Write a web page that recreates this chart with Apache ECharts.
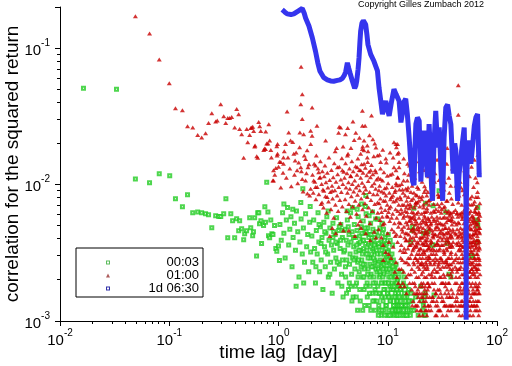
<!DOCTYPE html>
<html><head><meta charset="utf-8">
<script src="https://cdn.jsdelivr.net/npm/echarts@6/dist/echarts.min.js"></script>
<style>html,body{margin:0;padding:0;background:#fff}#c{width:512px;height:366px}</style>
</head><body><div id="c"></div>
<script>
// axis ticks
const xTicks = [0.01, 0.1, 1, 10, 100];
const yTicks = [0.001, 0.01, 0.1];
const yTop = 0.2;
const xMinor = [0.02,0.03,0.04,0.05,0.06,0.07,0.08,0.09,0.2,0.3,0.4,0.5,0.6,0.7,0.8,0.9,2,3,4,5,6,7,8,9,20,30,40,50,60,70,80,90];
const yMinor = [0.002,0.003,0.004,0.005,0.006,0.007,0.008,0.009,0.02,0.03,0.04,0.05,0.06,0.07,0.08,0.09];
const legendNames = ['00:03', '01:00', '1d 06:30'];
const xTitle = 'time lag  [day]';
const yTitle = 'correlation for the squared return';
const copyright = 'Copyright Gilles Zumbach 2012';

// series 00:03 (green squares)
const green0003 = [
[0.0164,.0508],[0.0329,.050],[0.049,.011],[0.066,.0103],[0.081,.012],[0.101,.0116],[0.114,.00787],[0.132,.00687],[0.147,.0084],[0.164,.0062],[0.182,.0063],[0.198,.0062],[0.215,.0061],[0.229,.006],[0.245,.00483],[0.266,.0059],[0.284,.00584],[0.296,.00584],[0.315,.0061],[0.33,.00787],[0.343,.00408],[0.366,.0061],[0.38,.00543],[0.397,.00408],[0.414,.00562],[0.432,.00459],[0.441,.00543],[0.46,.00475],[0.48,.00394],[0.49,.00436],[0.51,.00459],[0.545,.00572],[0.557,.00483],[0.58,.00422],[0.59,.0045],[0.605,.00572],[0.63,.003],[0.645,.0062],[0.66,.0062],[0.67,.00516],[0.69,.00543],[0.70,.00369],[0.73,.005],[0.75,.00687],[0.76,.0053],[0.78,.0104],[0.80,.0063],[0.81,.00422],[0.83,.00408],[0.85,.0055],[0.87,.00436],[0.89,.0043],[0.92,.005],[0.945,.0034],[0.965,.00325],[1.0,.00355],[1.02,.00277],
[1.03,.0051],[1.06,.0039],[1.09,.0062],[1.12,.0044],[1.15,.0029],[1.18,.0055],[1.21,.0068],[1.24,.0036],[1.27,.0047],[1.3,.0058],[1.33,.0025],[1.36,.0041],[1.4,.0052],[1.43,.0033],[1.46,.0064],[1.5,.0045],[1.54,.0021],[1.57,.0038],[1.61,.0056],[1.65,.0031],[1.69,.0048],[1.73,.0027],[1.77,.0061],[1.81,.0035],[1.85,.0043],[1.89,.0023],[1.93,.0053],[1.97,.0032],[1.12,.0072],[1.35,.0066],[1.6,.0074],[1.95,.0069],[1.45,.0018],[1.7,.0019],[1.67,.0093],
[2.02,.0042],[2.06,.0027],[2.1,.0055],[2.14,.0034],[2.18,.0019],[2.22,.0046],[2.26,.0031],[2.3,.0062],[2.34,.0038],[2.38,.0023],[2.42,.0049],[2.46,.0028],[2.5,.0041],[2.55,.0017],[2.6,.0053],[2.64,.0035],[2.68,.0025],[2.72,.0044],[2.77,.0058],[2.82,.0031],[2.86,.0021],[2.9,.0039],[2.95,.0048],[3.0,.0027],[3.05,.0036],[3.1,.0016],[3.15,.0052],[3.2,.0033],[3.25,.0024],[3.3,.0043],[3.35,.0029],[3.4,.0057],[3.45,.0037],[3.5,.0019],[3.55,.0046],[3.6,.0026],[3.66,.0034],[3.72,.0051],[3.78,.0022],[3.84,.0041],[3.9,.0015],[3.96,.0032],
[2.2,.0025],[2.45,.0037],[2.7,.0032],[2.95,.0022],[3.2,.0045],[3.45,.0027],[3.7,.0039],[2.35,.0051],[2.85,.0064],[3.35,.0038],[3.85,.0028],[2.65,.0045],[3.15,.0041],[3.6,.0049],[3.95,.0046],
[4.03,.0033],[4.08,.0047],[4.12,.0021],[4.17,.0039],[4.22,.0028],[4.27,.0055],[4.32,.0036],[4.37,.0017],[4.42,.0043],[4.47,.0026],[4.52,.0031],[4.57,.0062],[4.62,.0038],[4.67,.0022],[4.72,.0045],[4.77,.0029],[4.82,.0015],[4.88,.0035],[4.94,.0051],[5.0,.0024],[5.06,.0041],[5.12,.0032],[5.18,.0019],[5.24,.0046],[5.3,.0027],[5.36,.0058],[5.42,.0037],[5.48,.0023],[5.54,.0042],[5.6,.0014],[5.66,.0033],[5.72,.0049],[5.78,.0028],[5.84,.0039],[5.9,.0021],[5.96,.0054],[6.02,.0034],[6.08,.0017],[6.14,.0044],[6.2,.0026],[6.27,.0037],[6.34,.0061],[6.41,.0031],[6.48,.0019],[6.55,.0048],[6.62,.0024],[6.69,.0036],[6.76,.0013],[6.83,.0043],[6.9,.0029],[6.97,.0052],[7.04,.0022],[7.11,.0038],[7.18,.0016],[7.25,.0034],[7.32,.0047],[7.39,.0025],[7.46,.0032],[7.53,.0014],[7.6,.0041],[7.67,.0027],[7.74,.0019],[7.81,.0036],[7.88,.0045],[7.95,.0023],
[4.1,.0025],[4.35,.0049],[4.6,.0018],[4.85,.0041],[5.1,.0029],[5.35,.0021],[5.6,.0038],[5.85,.0031],[6.1,.0024],[6.35,.0045],[6.6,.0029],[6.85,.0021],[7.1,.0031],[7.35,.0019],[7.6,.0028],[7.85,.0016],[4.25,.0064],[4.75,.0068],[5.25,.0066],[5.75,.0072],[6.25,.0069],[6.75,.0059],[7.25,.0063],[7.75,.0056],[4.45,.0019],[5.15,.0015],[5.9,.0012],[6.5,.0015],[7.0,.0012],[7.7,.0012],[4.9,.0028],[5.45,.0033],[6.0,.0039],[6.95,.0035],[7.45,.0039],[6.3,.0083],
[5.05,.0018],[5.2,.0036],[5.4,.0028],[5.55,.0017],[5.7,.0025],[5.8,.0044],[5.95,.0026],[6.05,.0021],[6.2,.0048],[6.3,.0018],[6.45,.0033],[6.55,.0022],[6.7,.0041],[6.8,.0016],[6.9,.0026],[7.05,.0043],[7.15,.0025],[7.3,.0014],[7.4,.0029],[7.55,.0036],[7.65,.0017],[7.8,.0024],[7.9,.0033],[8.0,.0014],[6.15,.0013],[6.9,.0018],[7.5,.0021],[5.3,.0012],[4.7,.0014],[4.2,.0016],[3.8,.0018],
[8.04,.0031],[8.1,.0018],[8.16,.0042],[8.22,.0024],[8.28,.0013],[8.34,.0035],[8.4,.0021],[8.46,.0048],[8.52,.0028],[8.58,.0016],[8.64,.0038],[8.7,.0011],[8.76,.0025],[8.82,.0033],[8.88,.0019],[8.94,.0044],[9.0,.0027],[9.06,.0014],[9.13,.0036],[9.2,.0022],[9.27,.0012],[9.34,.0031],[9.41,.0017],[9.48,.0041],[9.55,.0024],[9.62,.0013],[9.69,.0029],[9.76,.0019],[9.83,.0037],[9.9,.0011],[9.97,.0023],[10.05,.0016],[10.13,.0033],[10.21,.0021],[10.29,.0012],[10.37,.0027],[10.45,.0018],[10.53,.0039],[10.61,.0014],[10.69,.0024],[10.77,.0011],[10.85,.0019],[10.93,.0031],[11.01,.0015],[11.09,.0022],[11.17,.0012],[11.25,.0028],[11.33,.0017],[11.41,.0013],[11.49,.0021],[11.57,.0011],[11.65,.0025],[11.73,.0016],[11.81,.0012],[11.89,.0019],[11.97,.0014],[12.05,.0011],[12.13,.0023],[12.21,.0015],[12.29,.0012],[12.37,.0018],[12.45,.0013],
[8.07,.0056],[8.31,.0027],[8.55,.0022],[8.79,.0015],[9.03,.0021],[9.27,.0026],[9.51,.0015],[9.75,.0027],[9.99,.0032],[10.23,.0015],[10.47,.0026],[10.71,.0017],[10.95,.0012],[11.19,.0017],[11.43,.0024],[11.67,.0013],[11.91,.0026],[12.15,.0017],[12.39,.0011],[8.43,.0012],[9.15,.0047],[9.63,.0034],[10.11,.0043],[10.59,.0029],[11.07,.0036],[8.85,.0052],[9.4,.0011],[10.4,.0011],[12.3,.002],
[8.13,.0026],[8.25,.0037],[8.37,.0016],[8.49,.0023],[8.61,.0031],[8.73,.0019],[8.85,.0012],[8.97,.0036],[9.09,.0024],[9.21,.0017],[9.33,.0039],[9.45,.0028],[9.57,.0019],[9.69,.0013],[9.81,.0024],[9.93,.0016],[10.02,.0028],[10.17,.0019],[10.33,.0024],[10.5,.0014],[10.65,.0021],[10.8,.0027],[10.98,.0018],[11.13,.0025],[11.3,.0013],[11.45,.0018],[11.6,.0015],[11.78,.0021],[11.95,.0012],[12.1,.0019],[12.25,.0014],[12.5,.0012],[8.2,.0011],
[12.55,.0016],[12.7,.0012],[12.85,.0018],[13.0,.0011],[13.15,.0014],[13.3,.0017],[13.45,.0012],[13.6,.0015],[13.75,.0011],[13.9,.0019],[14.05,.0013],[14.2,.0016],[14.35,.0011],[14.5,.0014],[14.65,.0018],[14.8,.0012],[14.95,.0015],[15.1,.0011],[15.3,.0013],[15.5,.0017],[15.7,.0012],[15.9,.0014],[16.1,.0011],[16.3,.0016],[16.5,.0012],[16.8,.0014],[12.62,.0021],[13.4,.0023],[14.1,.0021],[12.9,.0013],[13.7,.0013],
[12.75,.0015],[13.05,.0017],[13.35,.0013],[13.65,.0018],[13.95,.0012],[14.25,.0015],[14.6,.0013],[14.9,.0011],[15.2,.0016],[15.6,.0014],
[17.3,.0012],[18.0,.0015],[19.0,.0011],[20.5,.0014],[21.0,.0012],[22.0,.0016],[20.0,.0018],[21.5,.0011],[21.2,.0013],[22.1,.0011],[21.6,.0015],
[17.3,.0067],[22.2,.0073],[26.0,.0070],[34.0,.0063],[16.9,.0049],[21.3,.0044],[23.4,.0045],[16.2,.0038],[26.0,.0036],[35.0,.0037],[64.1,.0055],[66.6,.005],[66.6,.0038],[66.6,.0068],[36.3,.0022],[59.6,.003],[26.5,.00155],[29.5,.009],[16.9,.0046],[25.7,.0036],[37.8,.0021],[57.7,.003],[66,.0053]
];

// series 01:00 (red triangles)
const red0100 = [
[0.049,.171],[0.066,.128],[0.081,.0826],[0.10,.0552],[0.114,.0363],[0.132,.0351],[0.147,.0267],[0.164,.0262],[0.182,.0231],[0.198,.0221],[0.215,.0238],[0.229,.0282],[0.245,.0333],[0.266,.029],[0.275,.0295],[0.296,.0388],[0.315,.0316],[0.329,.0282],[0.343,.0307],[0.357,.0307],[0.373,.0312],[0.397,.0262],[0.414,.0357],[0.432,.0328],[0.441,.0255],[0.46,.0234],[0.48,.0157],[0.512,.0255],[0.523,.0204],[0.545,.0231],[0.557,.026],[0.581,.0265],[0.593,.0247],[0.605,.019],[0.632,.0161],[0.645,.0157],[0.659,.0287],[0.673,.0267],[0.688,.0247],[0.733,.0179],[0.745,.0184],[0.764,.0245],[0.78,.020],[0.80,.020],[0.815,.0277],[0.83,.021],[0.85,.0179],[0.86,.0158],[0.887,.0107],[0.90,.0107],[0.925,.0118],[0.945,.0132],[0.965,.0191],[0.98,.0168],[1.0,.0135],[1.02,.0147],[0.57,.0262],[0.61,.0193],[0.76,.0182],[0.98,.0198],[0.9,.0127],[0.97,.0163],
[1.65,.0459],[1.60,.0388],[2.03,.0367],[1.20,.0343],[1.65,.0302],[1.16,.0198],[1.29,.021],[1.24,.0241],[1.57,.0241],[1.70,.0234],[1.97,.0248],[2.03,.0228],[1.97,.0198],[1.38,.0168],[1.11,.0158],[1.05,.0146],[1.42,.015],[1.48,.0127],[1.77,.0154],[1.86,.0134],[1.65,.011],[2.18,.0138],[2.33,.0123],[2.41,.0113],[2.1,.0107],[2.6,.009],[2.79,.0081],[2.5,.0074],[1.77,.0107],[1.97,.0093],[1.84,.0086],[2.18,.0096],[3.1,.009],[1.61,.073],[1.11,.0142],[1.6,.0134],
[1.05,.0095],[1.1,.0122],[1.13,.0175],[1.18,.0112],[1.22,.0158],[1.27,.0131],[1.31,.0097],[1.35,.0205],[1.4,.0118],[1.45,.0172],[1.5,.0102],[1.53,.0145],[1.56,.0188],[1.62,.0125],[1.68,.0089],[1.72,.0163],[1.8,.0121],[1.83,.0178],[1.9,.0141],[1.93,.0083],
[2.05,.0118],[2.08,.0087],[2.12,.0142],[2.15,.0105],[2.2,.0078],[2.22,.0163],[2.26,.0096],[2.3,.0131],[2.34,.0085],[2.37,.0112],[2.42,.0148],[2.45,.0072],[2.48,.0101],[2.52,.0125],[2.55,.0092],[2.58,.0068],[2.62,.0115],[2.66,.0138],[2.69,.0082],[2.72,.0104],[2.76,.0062],[2.8,.0122],[2.83,.0095],[2.87,.0075],[2.9,.0158],[2.94,.0108],[2.98,.0088],[3.02,.0066],[3.05,.0128],[3.09,.0098],[3.13,.0079],[3.17,.0113],[3.2,.0057],[3.24,.0143],[3.28,.0091],[3.32,.0071],[3.36,.0105],[3.4,.0185],[3.44,.0083],[3.48,.0119],[3.52,.0064],[3.56,.0096],[3.6,.0135],[3.64,.0077],[3.68,.0052],[3.72,.0109],[3.76,.0088],[3.8,.0156],[3.84,.0069],[3.88,.0101],[3.92,.0046],[3.96,.0124],
[2.7,.021],[3.3,.0175],[3.9,.019],[2.25,.027],[3.55,.024],[2.95,.0042],[3.1,.0048],[3.35,.0044],[3.71,.0262],[4.1,.0234],[4.27,.0163],[3.6,.0265],[3.46,.0134],[3.84,.0127],
[4.02,.0112],[4.07,.0078],[4.11,.0143],[4.15,.0095],[4.2,.0064],[4.24,.0121],[4.28,.0087],[4.33,.0168],[4.37,.0104],[4.41,.0072],[4.46,.0131],[4.5,.0093],[4.55,.0058],[4.6,.0115],[4.64,.0082],[4.69,.0148],[4.74,.0101],[4.78,.0069],[4.83,.0125],[4.88,.0089],[4.93,.0212],[4.98,.0107],[5.03,.0076],[5.08,.0136],[5.13,.0095],[5.18,.0061],[5.23,.0118],[5.28,.0084],[5.33,.0155],[5.38,.0099],[5.43,.0071],[5.49,.0128],[5.54,.0091],[5.6,.0054],[5.65,.0112],[5.71,.0079],[5.76,.0141],[5.82,.0103],[5.88,.0066],[5.94,.0122],[6.0,.0087],[6.06,.0178],[6.12,.0097],[6.18,.0073],[6.24,.0133],[6.3,.0092],[6.36,.0059],[6.42,.0117],[6.49,.0081],[6.55,.0146],[6.62,.0106],[6.68,.0068],[6.75,.0124],[6.82,.0088],[6.88,.0052],[6.95,.0113],[7.02,.0077],[7.09,.0139],[7.16,.0098],[7.23,.0064],[7.3,.0119],[7.38,.0085],[7.45,.0161],[7.52,.0102],[7.6,.0072],[7.67,.0127],[7.75,.0093],[7.83,.0057],[7.9,.0109],
[4.3,.026],[4.8,.029],[5.1,.024],[5.5,.022],[6.2,.027],[6.8,.023],[7.1,.032],[7.6,.02],[4.6,.0185],[5.9,.019],[6.6,.0175],[7.3,.0215],[4.4,.0046],[5.0,.0042],[5.7,.0048],[6.3,.0044],[6.9,.0039],[7.5,.0045],[7.8,.0041],[5.35,.0051],
[5.86,.0347],[5.86,.027],[6.07,.021],[5.86,.0182],[5.65,.0168],[6.5,.0193],[6.5,.0158],[7.8,.0187],[8.05,.0163],[8.6,.0146],[11.4,.0204],[12.7,.0146],[12.7,.0134],[4.57,.0116],[5.26,.0134],[5.65,.0127],[6.07,.0142],[6.98,.0127],[7.8,.0123],[8.6,.011],[9.9,.0116],[11.0,.012],[12.3,.0113],[12.3,.0198],[11.9,.0198],[12.3,.0168],[11.9,.0127],[11.9,.0102],[12.7,.0099],[11.9,.0076],
[8.02,.0085],[8.1,.0062],[8.18,.0112],[8.26,.0047],[8.34,.0073],[8.42,.0098],[8.5,.0055],[8.58,.0131],[8.66,.0068],[8.74,.0041],[8.82,.0089],[8.9,.0058],[8.98,.0107],[9.06,.0036],[9.14,.0076],[9.22,.0123],[9.3,.0052],[9.38,.0094],[9.46,.0065],[9.55,.0032],[9.63,.0083],[9.72,.0145],[9.8,.0059],[9.89,.0071],[9.98,.0044],[10.07,.0102],[10.16,.0063],[10.25,.0038],[10.34,.0087],[10.43,.0054],[10.52,.0118],[10.62,.0069],[10.71,.0029],[10.81,.0081],[10.9,.0047],[11.0,.0096],[11.1,.0061],[11.2,.0035],[11.3,.0075],[11.4,.0134],[11.5,.0052],[11.6,.0088],[11.7,.0042],[11.8,.0066],[11.9,.0027],[12.0,.0099],[12.1,.0057],[12.2,.0079],[12.3,.0038],[12.4,.0112],[12.5,.0049],[12.6,.0071],[12.7,.0024],[12.8,.0092],[12.9,.0061],[13.0,.0033],
[8.06,.0074],[8.3,.0091],[8.55,.0079],[8.78,.0063],[9.02,.0051],[9.26,.0087],[9.5,.0076],[9.76,.0095],[10.0,.0058],[10.3,.0067],[10.57,.0078],[10.85,.0057],[11.15,.0083],[11.45,.0045],[11.75,.0091],[12.05,.0043],[12.35,.0064],[12.65,.0053],[12.95,.0081],[8.4,.0165],[9.0,.018],[9.6,.0155],[10.5,.0172],[11.2,.0158],[12.0,.0188],[12.6,.0172],[12.1,.0021],[12.5,.0019],[11.6,.0023],[13.0,.0018],[10.2,.0031],[9.1,.0028],
[13.1,.0052],[13.2,.0078],[13.3,.0036],[13.4,.0101],[13.5,.0062],[13.6,.0028],[13.7,.0045],[13.8,.0087],[13.9,.0057],[14.0,.0023],[14.1,.0071],[14.2,.0121],[14.3,.0041],[14.4,.0064],[14.5,.0032],[14.6,.0093],[14.7,.0053],[14.8,.0021],[14.9,.0076],[15.0,.0044],[15.1,.0107],[15.2,.0059],[15.3,.0034],[15.4,.0081],[15.5,.0048],[15.6,.0026],[15.7,.0067],[15.8,.0138],[15.9,.0039],[16.0,.0072],[16.1,.0055],[16.2,.0022],[16.3,.0088],[16.4,.0046],[16.5,.0031],[16.6,.0063],[16.7,.0098],[16.8,.0037],[16.9,.0019],[17.0,.0057],[17.1,.0079],[17.2,.0027],[17.3,.0045],[17.4,.0016],[17.5,.0068],[17.6,.0035],[17.7,.0112],[17.8,.0051],[17.9,.0013],[18.0,.0029],[18.1,.0084],[18.2,.0042],[18.3,.0021],[18.4,.0061],[18.5,.0012],[18.6,.0038],[18.7,.0074],[18.8,.0025],[18.9,.0049],[19.0,.0015],[19.1,.0093],[19.2,.0033],[19.3,.0057],[19.4,.0011],[19.5,.0024],[19.6,.0069],[19.7,.0041],[19.8,.0018],[19.9,.0052],
[13.25,.0066],[13.65,.0092],[14.05,.0049],[14.45,.0083],[14.85,.0039],[15.25,.0071],[15.65,.0054],[16.05,.0029],[16.45,.0077],[16.85,.0047],[17.25,.0062],[17.65,.0023],[18.05,.0054],[18.45,.0031],[18.85,.0017],[19.25,.0076],[19.65,.0029],[14.0,.0155],[15.2,.0142],[16.5,.0132],[18.2,.0148],[19.5,.0125],[18.1,.0074],[15.2,.0091],
[13.05,.0042],[13.35,.0024],[13.55,.0071],[13.85,.0032],[14.15,.0059],[14.25,.0018],[14.55,.0044],[14.75,.0068],[14.95,.0027],[15.15,.0051],[15.35,.0095],[15.45,.0022],[15.75,.0036],[15.95,.0058],[16.15,.0041],[16.25,.0069],[16.55,.0017],[16.65,.0052],[16.95,.0033],[17.05,.0014],[17.15,.0048],[17.35,.0087],[17.45,.0026],[17.55,.0039],[17.75,.0056],[17.85,.0018],[17.95,.0071],[18.15,.0036],[18.25,.0013],[18.35,.0047],[18.55,.0083],[18.65,.0028],[18.75,.0016],[18.95,.0063],[19.05,.0037],[19.15,.0021],[19.35,.0045],[19.45,.0014],[19.55,.0081],[19.75,.0034],[19.85,.0012],[19.95,.0026],[13.95,.0107],[15.55,.0118],[17.15,.0103],[18.65,.0096],
[13.15,.0029],[13.45,.0047],[13.75,.0019],[14.15,.0034],[14.35,.0027],[14.65,.0039],[14.85,.0016],[15.05,.0063],[15.4,.0029],[15.6,.0043],[15.85,.0019],[16.1,.0036],[16.35,.0057],[16.6,.0024],[16.75,.0013],[17.0,.0041],[17.2,.0034],[17.4,.0059],[17.6,.0019],[17.8,.0029],[18.0,.0044],[18.2,.0016],[18.4,.0035],[18.6,.0052],[18.8,.0013],[19.0,.0027],[19.2,.0047],[19.4,.0031],[19.6,.0016],[19.8,.0039],
[20.1,.0034],[20.2,.0012],[20.3,.0061],[20.4,.0022],[20.5,.0045],[20.6,.0016],[20.7,.0082],[20.8,.0029],[20.9,.0011],[21.0,.0053],[21.1,.0037],[21.2,.0019],[21.3,.0068],[21.4,.0025],[21.5,.0042],[21.6,.0013],[21.7,.0097],[21.8,.0031],[21.9,.0057],[22.0,.0018],[22.1,.0046],[22.2,.0027],[22.3,.0014],[22.4,.0074],[22.5,.0036],[22.6,.0021],[22.7,.0051],[22.8,.0011],[22.9,.0039],[23.0,.0064],[23.1,.0024],[23.2,.0017],[23.3,.0088],[23.4,.0043],[23.5,.0030],[23.6,.0013],[23.7,.0056],[23.8,.0022],[23.9,.0071],[24.0,.0035],[24.2,.0015],[24.4,.0048],[24.6,.0026],[24.8,.0062],[25.0,.0012],[25.2,.0038],[25.4,.0019],[25.6,.0079],[25.8,.0044],[26.0,.0028],[26.2,.0014],[26.4,.0054],[26.6,.0033],[26.8,.0105],[27.0,.0021],[27.2,.0047],[27.4,.0016],[27.6,.0066],[27.8,.0031],[28.0,.0011],[28.2,.0058],[28.4,.0037],[28.6,.0023],[28.8,.0085],[29.0,.0042],[29.2,.0015],[29.4,.0052],[29.6,.0027],[29.8,.0069],[30.0,.0034],[30.3,.0012],[30.6,.0045],[30.9,.0019],[31.2,.0073],[31.5,.0039],[31.8,.0025],[32.1,.0057],[32.4,.0014],[32.7,.0092],[33.0,.0031],[33.3,.0048],[33.6,.0018],[33.9,.0064],[34.2,.0028],[34.5,.0011],[34.8,.0041],[35.1,.0076],[35.4,.0022],[35.7,.0055],[36.0,.0016],[36.3,.0035],[36.6,.0087],[36.9,.0026],[37.2,.0046],[37.5,.0013],[37.8,.0062],[38.1,.0032],[38.4,.0021],[38.7,.0051],[39.0,.0015],[39.3,.0072],[39.6,.0038],
[20.15,.0026],[20.45,.0078],[20.75,.0041],[21.05,.0015],[21.35,.0032],[21.65,.0059],[21.95,.0024],[22.25,.0038],[22.55,.0012],[22.85,.0067],[23.15,.0045],[23.45,.0019],[23.75,.0034],[24.1,.0054],[24.5,.0013],[24.9,.0031],[25.3,.0058],[25.7,.0023],[26.1,.0041],[26.5,.0017],[26.9,.0063],[27.3,.0029],[27.7,.0049],[28.1,.0014],[28.5,.0072],[28.9,.0025],[29.3,.0036],[29.7,.0012],[30.15,.0057],[30.75,.0029],[31.35,.0014],[31.95,.0044],[32.55,.0068],[33.15,.0021],[33.75,.0037],[34.35,.0053],[34.95,.0017],[35.55,.0029],[36.15,.0064],[36.75,.0041],[37.35,.0024],[37.95,.0012],[38.55,.0036],[39.15,.0058],[39.75,.0027],
[20.05,.0049],[20.25,.0019],[20.55,.0031],[20.85,.0055],[20.95,.0023],[21.15,.0071],[21.25,.0014],[21.45,.0036],[21.55,.0088],[21.75,.0021],[21.85,.0044],[22.05,.0012],[22.15,.0063],[22.35,.0029],[22.45,.0052],[22.65,.0016],[22.75,.0083],[22.95,.0025],[23.05,.0041],[23.25,.0013],[23.35,.0057],[23.55,.0034],[23.65,.0076],[23.85,.0018],[23.95,.0047],[24.3,.0029],[24.7,.0039],[25.1,.0022],[25.5,.0046],[25.9,.0015],[26.3,.0072],[26.7,.0024],[27.1,.0036],[27.5,.0013],[27.9,.0052],[28.3,.0028],[28.7,.0017],[29.1,.0064],[29.5,.0033],[29.9,.0021],[30.45,.0041],[31.05,.0066],[31.65,.0019],[32.25,.0033],[32.85,.0051],[33.45,.0013],[34.05,.0044],[34.65,.0027],[35.25,.0062],[35.85,.0038],[36.45,.0013],[37.05,.0055],[37.65,.0031],[38.25,.0079],[38.85,.0023],[39.45,.0047],
[20.35,.0015],[20.65,.0037],[21.1,.0026],[21.5,.0063],[21.8,.0017],[22.3,.0044],[22.6,.0033],[23.0,.0019],[23.3,.0028],[23.7,.0012],[24.15,.0077],[24.55,.0037],[24.95,.0052],[25.35,.0014],[25.75,.0034],[26.15,.0064],[26.55,.0026],[26.95,.0043],[27.35,.0011],[27.75,.0023],[28.15,.0037],[28.55,.0049],[28.95,.0012],[29.35,.0082],[29.75,.0044],[30.25,.0024],[30.55,.0016],[30.85,.0062],[31.15,.0028],[31.45,.0051],[31.75,.0011],[32.05,.0036],[32.35,.0022],[32.65,.0043],[32.95,.0013],[33.25,.0069],[33.55,.0027],[33.85,.0019],[34.15,.0039],[34.45,.0076],[34.75,.0015],[35.05,.0033],[35.35,.0045],[35.65,.0012],[35.95,.0025],[36.25,.0048],[36.55,.0019],[36.85,.0059],[37.15,.0015],[37.45,.0035],[37.75,.0042],[38.05,.0026],[38.35,.0056],[38.65,.0013],[38.95,.0041],[39.25,.0024],[39.55,.0016],[39.85,.0063],
[20.2,.0041],[20.5,.0027],[20.8,.0018],[21.1,.0048],[21.4,.0033],[21.7,.0016],[22.0,.0039],[22.3,.0054],[22.6,.0026],[22.9,.0015],[23.2,.0036],[23.5,.0049],[23.8,.0029],[24.1,.0018],[24.4,.0027],[24.7,.0051],[25.0,.0033],[25.3,.0021],[25.6,.0015],[25.9,.0042],[26.2,.0031],[26.5,.0056],[26.8,.0019],[27.1,.0027],[27.4,.0043],[27.7,.0016],[28.0,.0033],[28.3,.0055],[28.6,.0013],[28.9,.0039],[29.2,.0026],[29.5,.0047],[29.8,.0017],[30.1,.0029],[30.4,.0052],[30.7,.0021],[31.0,.0036],[31.3,.0015],[31.6,.0047],[31.9,.0027],[32.2,.0019],[32.5,.0041],[32.8,.0032],[33.1,.0058],[33.4,.0016],[33.7,.0025],[34.0,.0048],[34.3,.0034],[34.6,.0013],[34.9,.0057],[35.2,.0026],[35.5,.0039],[35.8,.0019],[36.1,.0044],[36.4,.0029],[36.7,.0015],[37.0,.0037],[37.3,.0061],[37.6,.0022],[37.9,.0043],[38.2,.0017],[38.5,.0029],[38.8,.0054],[39.1,.0035],[39.4,.0013],[39.7,.0045],
[20.6,.0105],[21.4,.0128],[22.2,.0092],[23.6,.0115],[24.7,.0138],[25.9,.0098],[27.1,.0121],[28.3,.0152],[29.5,.0108],[30.8,.0093],[32.0,.0125],[33.4,.0104],[34.7,.0142],[36.2,.0112],[37.7,.0098],[39.0,.0131],[26.3,.0165],[31.5,.0178],[35.0,.0185],[29.6,.0081],
[41.2,.0028],[41.8,.0013],[42.4,.0051],[43.0,.0019],[43.6,.0036],[44.2,.0074],[44.8,.0024],[45.4,.0011],[46.0,.0043],[46.6,.0016],[47.2,.0062],[47.8,.0031],[48.4,.0014],[49.0,.0047],[49.6,.0022],[50.2,.0085],[50.8,.0035],[51.4,.0012],[52.0,.0056],[52.6,.0027],[53.2,.0017],[53.8,.0068],[54.4,.0039],[55.0,.0013],[55.6,.0049],[56.2,.0023],[56.8,.0079],[57.4,.0033],[58.0,.0015],[58.6,.0058],[59.2,.0026],[59.8,.0041],[60.4,.0011],[61.0,.0072],[61.6,.0029],[62.2,.0046],[62.8,.0018],[63.4,.0063],[64.0,.0034],[64.6,.0013],[65.2,.0053],[65.8,.0024],[66.4,.0088],[67.0,.0037],[67.6,.0016],[68.2,.0061],[68.8,.0028],[69.4,.0044],
[41.5,.0044],[42.1,.0021],[42.7,.0015],[43.3,.0062],[43.9,.0012],[44.5,.0033],[45.1,.0052],[45.7,.0018],[46.3,.0027],[46.9,.0095],[47.5,.0013],[48.1,.0039],[48.7,.0058],[49.3,.0017],[49.9,.0029],[50.5,.0045],[51.1,.0021],[51.7,.0067],[52.3,.0014],[52.9,.0038],[53.5,.0025],[54.1,.0011],[54.7,.0054],[55.3,.0031],[55.9,.0019],[56.5,.0043],[57.1,.0012],[57.7,.0027],[58.3,.0071],[58.9,.0036],[59.5,.0016],[60.1,.0052],[60.7,.0023],[61.3,.0038],[61.9,.0013],[62.5,.0064],[63.1,.0025],[63.7,.0019],[64.3,.0047],[64.9,.0031],[65.5,.0012],[66.1,.0039],[66.7,.0021],[67.3,.0057],[67.9,.0011],[68.5,.0035],[69.1,.0019],[69.7,.0073],
[41.3,.0019],[41.6,.0065],[41.9,.0031],[42.2,.0012],[42.5,.0037],[42.8,.0024],[43.1,.0047],[43.4,.0014],[43.7,.0058],[44.0,.0027],[44.3,.0017],[44.6,.0042],[44.9,.0083],[45.2,.0021],[45.5,.0034],[45.8,.0061],[46.1,.0013],[46.4,.0048],[46.7,.0025],[47.0,.0036],[47.3,.0019],[47.6,.0071],[47.9,.0044],[48.2,.0011],[48.5,.0029],[48.8,.0016],[49.1,.0063],[49.4,.0035],[49.7,.0052],[50.0,.0013],[50.3,.0024],[50.6,.0066],[50.9,.0018],[51.2,.0041],[51.5,.0029],[51.8,.0015],[52.1,.0034],[52.4,.0077],[52.7,.0012],[53.0,.0049],[53.3,.0031],[53.6,.0021],[53.9,.0044],[54.2,.0061],[54.5,.0017],[54.8,.0028],[55.1,.0072],[55.4,.0014],[55.7,.0035],[56.0,.0026],[56.3,.0056],[56.6,.0011],[56.9,.0041],[57.2,.0021],[57.5,.0064],[57.8,.0047],[58.1,.0032],[58.4,.0013],[58.7,.0024],[59.0,.0082],[59.3,.0038],[59.6,.0019],[59.9,.0059],[60.2,.0027],[60.5,.0014],[60.8,.0043],[61.1,.0033],[61.4,.0016],[61.7,.0055],[62.0,.0022],[62.3,.0075],[62.6,.0036],[62.9,.0012],[63.2,.0044],[63.5,.0028],[63.8,.0067],[64.1,.0016],[64.4,.0024],[64.7,.0051],[65.0,.0039],[65.3,.0018],[65.6,.0069],[65.9,.0013],[66.2,.0046],[66.5,.0029],[66.8,.0017],[67.1,.0081],[67.4,.0033],[67.7,.0024],[68.0,.0048],[68.3,.0014],[68.6,.0055],[68.9,.0038],[69.2,.0012],[69.5,.0026],[69.8,.0059],
[41.0,.0053],[41.4,.0025],[41.7,.0014],[42.3,.0043],[42.6,.0029],[42.9,.0061],[43.2,.0023],[43.5,.0041],[43.8,.0016],[44.1,.0053],[44.4,.0038],[44.7,.0013],[45.0,.0029],[45.3,.0045],[45.6,.0024],[45.9,.0036],[46.2,.0017],[46.5,.0059],[46.8,.0033],[47.1,.0014],[47.4,.0041],[47.7,.0022],[48.0,.0056],[48.3,.0035],[48.6,.0019],[48.9,.0027],[49.2,.0042],[49.5,.0013],[49.8,.0038],[50.1,.0061],[50.4,.0019],[50.7,.0033],[51.0,.0046],[51.3,.0025],[51.6,.0017],[51.9,.0052],[52.2,.0022],[52.5,.0043],[52.8,.0016],[53.1,.0034],[53.4,.0058],[53.7,.0013],[54.0,.0027],[54.3,.0048],[54.6,.0035],[54.9,.0021],[55.2,.0042],[55.5,.0016],[55.8,.0062],[56.1,.0037],[56.4,.0023],[56.7,.0014],[57.0,.0051],[57.3,.0029],[57.6,.0038],[57.9,.0018],[58.2,.0047],[58.5,.0024],[58.8,.0013],[59.1,.0035],[59.4,.0054],[59.7,.0022],[60.0,.0043],[60.3,.0017],[60.6,.0031],[60.9,.0057],[61.2,.0025],[61.5,.0013],[61.8,.0039],[62.1,.0049],[62.4,.0016],[62.7,.0029],[63.0,.0053],[63.3,.0021],[63.6,.0037],[63.9,.0014],[64.2,.0044],[64.5,.0026],[64.8,.0035],[65.1,.0061],[65.4,.0023],[65.7,.0017],[66.0,.0042],[66.3,.0031],[66.6,.0014],[66.9,.0051],[67.2,.0026],[67.5,.0039],[67.8,.0018],[68.1,.0063],[68.4,.0029],[68.7,.0045],[69.0,.0016],[69.3,.0034],[69.6,.0048],[69.9,.0022],
[42.0,.0098],[44.0,.0118],[46.0,.0105],[48.5,.0091],[50.5,.0127],[53.0,.0102],[56.0,.0115],[58.5,.0135],[61.0,.0096],[63.5,.0112],[66.0,.0104],[68.5,.0124],[62.0,.0152],[67.0,.0165],
[44.2,.0534],[44.2,.0324],[64.1,.0081],[43.6,.0093],[18.1,.0074]
];

// series 1d 06:30 (blue, dense enough to read as a thick trace)
const blue1d0630 = [
[1.08,.191],[1.14,.184],[1.2,.178],[1.3,.176],[1.38,.178],[1.5,.186],[1.65,.195],[1.72,.18],[1.77,.166],[1.9,.145],[2.04,.119],[2.18,.095],[2.29,.078],[2.39,.068],[2.6,.0607],[2.8,.0585],[3.0,.0574],[3.2,.0572],[3.46,.058],[3.65,.0585],[3.84,.060],[4.0,.063],[4.12,.067],[4.27,.078],[4.4,.071],[4.51,.066],[4.74,.0574],[4.98,.0508],[5.1,.053],[5.2,.0574],[5.35,.07],[5.46,.085],[5.56,.11],[5.65,.133],[5.8,.152],[5.98,.159],[6.12,.155],[6.28,.149],[6.45,.125],[6.59,.106],[6.98,.090],[7.48,.080],[8.05,.068],[8.32,.0513],[8.63,.041],[8.94,.0328],[9.2,.036],[9.59,.041],[10.0,.035],[10.3,.0319],[10.8,.04],[11.4,.050],[11.9,.046],[12.7,.041],[13.2,.0285],[13.6,.033],[14.0,.040],[14.6,.0425],[15.1,.033],[15.7,.0221],[16.3,.014],[16.9,.0105],[17.4,.0099],[17.7,.018],[18.1,.0279],[18.7,.031],[19.4,.0293],[19.8,.016],[20.1,.0105],[20.7,.018],[21.5,.0248],[22.3,.016],[23.1,.0113],[23.9,.0277],[24.5,.018],[25.2,.0095],[25.7,.0076],[26.5,.02],[27.5,.0347],[28.6,.0187],[29.6,.0262],[30.8,.012],[31.8,.0076],[32.8,.022],[34.0,.0367],[35.3,.0386],[36.5,.032],[37.8,.0277],[39.7,.012],[41.0,.02],[42.0,.0177],[43.0,.010],[43.6,.0076],[45.0,.012],[46.7,.0158],[48.5,.021],[50.1,.0262],[51.0,.014],[52.0,.0076],[52.2,.00102],[52.4,.0076],[53.5,.016],[55.0,.021],[57.7,.0142],[60.0,.02],[62.0,.027],[64.1,.031],[66.4,.0328],[67.5,.02],[68.8,.0113]
];

const FONT = 'Liberation Sans, Arial, Helvetica, sans-serif';
function near(v, list) { return list.some(t => Math.abs(v - t) < t * 1e-6); }
function powLabel(v, list) {
  if (!near(v, list)) return '';
  const e = Math.round(Math.log10(v));
  return '{b|10}{s|' + e + '}';
}
const richLab = {
  b: { fontSize: 15, fontFamily: FONT, color: '#000', lineHeight: 20, verticalAlign: 'bottom' },
  s: { fontSize: 10, fontFamily: FONT, color: '#000', lineHeight: 20, verticalAlign: 'top' }
};
const hollowSq = 'path://M0 0H4V4H0Z M1 1V3H3V1Z';

const chart = echarts.init(document.getElementById('c'), null, { renderer: 'canvas' });
chart.setOption({
  animation: false,
  backgroundColor: '#fff',
  grid: { left: 60, right: 15, top: 7, bottom: 45, containLabel: false, outerBoundsMode: 'none' },
  xAxis: {
    type: 'log', logBase: 10, min: 0.01, max: 100,
    name: xTitle, nameLocation: 'middle', nameGap: 22, nameMoveOverlap: false,
    nameTextStyle: { fontSize: 19, fontFamily: FONT, color: '#000' },
    axisLine: { show: true, lineStyle: { color: '#000', width: 1 } },
    axisTick: { show: true, inside: false, length: 5, lineStyle: { color: '#000' } },
    axisLabel: { margin: 7, formatter: v => powLabel(v, xTicks), rich: richLab },
    splitLine: { show: false }
  },
  yAxis: {
    type: 'log', logBase: 10, min: 0.001, max: yTop,
    name: yTitle, nameLocation: 'middle', nameGap: 38, nameMoveOverlap: false,
    nameTextStyle: { fontSize: 19, fontFamily: FONT, color: '#000' },
    axisLine: { show: true, lineStyle: { color: '#000', width: 1 } },
    axisTick: { show: true, inside: false, length: 5, lineStyle: { color: '#000' } },
    axisLabel: { margin: 10, formatter: v => powLabel(v, yTicks), rich: richLab },
    splitLine: { show: false }
  },
  legend: {
    orient: 'vertical', left: 76, top: 248,
    padding: [8, 4, 2, 30], itemGap: 0, itemWidth: 4, itemHeight: 4, itemTextGap: 5,
    borderColor: '#000', borderWidth: 1, borderRadius: 0, selectedMode: false,
    formatter: n => '{t|' + n + '}',
    textStyle: { rich: { t: { width: 84, align: 'right', fontSize: 13, lineHeight: 15.5, fontFamily: FONT, color: '#000' } } },
    data: [
      { name: legendNames[0], icon: hollowSq, itemStyle: { color: '#33aa33', borderWidth: 0 } },
      { name: legendNames[1], icon: 'triangle', itemStyle: { color: '#993333', borderWidth: 0 } },
      { name: legendNames[2], icon: hollowSq, itemStyle: { color: '#3333aa', borderWidth: 0 } }
    ]
  },
  series: [
    { name: legendNames[0], type: 'scatter', data: green0003, symbol: 'emptyRect', symbolSize: 3,
      itemStyle: { color: '#22cc22', borderColor: '#22cc22', borderWidth: 1 }, z: 2, silent: true },
    { name: legendNames[1], type: 'scatter', data: red0100, symbol: 'triangle', symbolSize: [5, 4],
      itemStyle: { color: '#c80000' }, z: 3, silent: true },
    { name: legendNames[2], type: 'line', data: blue1d0630, showSymbol: false, symbol: 'none',
      lineStyle: { color: '#3535ee', width: 5 }, itemStyle: { color: '#3535ee' }, z: 4, silent: true }
  ]
});

// minor ticks (2..9 per decade), positioned through the chart's own scales
const origin = chart.convertToPixel({ seriesIndex: 0 }, [xTicks[0], yTicks[0]]);
const gEls = [{
  type: 'text', left: 358, top: 0, silent: true, z: 100,
  style: { text: copyright, font: '9px ' + FONT, fill: '#000' }
}];
xMinor.forEach(v => {
  const p = chart.convertToPixel({ seriesIndex: 0 }, [v, yTicks[0]]);
  gEls.push({ type: 'rect', silent: true, z: 100,
    shape: { x: Math.round(p[0] - 0.5), y: Math.round(origin[1]), width: 1, height: 3 },
    style: { fill: '#000' } });
});
yMinor.forEach(v => {
  const p = chart.convertToPixel({ seriesIndex: 0 }, [xTicks[0], v]);
  gEls.push({ type: 'rect', silent: true, z: 100,
    shape: { x: Math.round(origin[0]) - 3, y: Math.round(p[1] - 0.5), width: 3, height: 1 },
    style: { fill: '#000' } });
});
chart.setOption({ graphic: { elements: gEls } });
</script></body></html>
